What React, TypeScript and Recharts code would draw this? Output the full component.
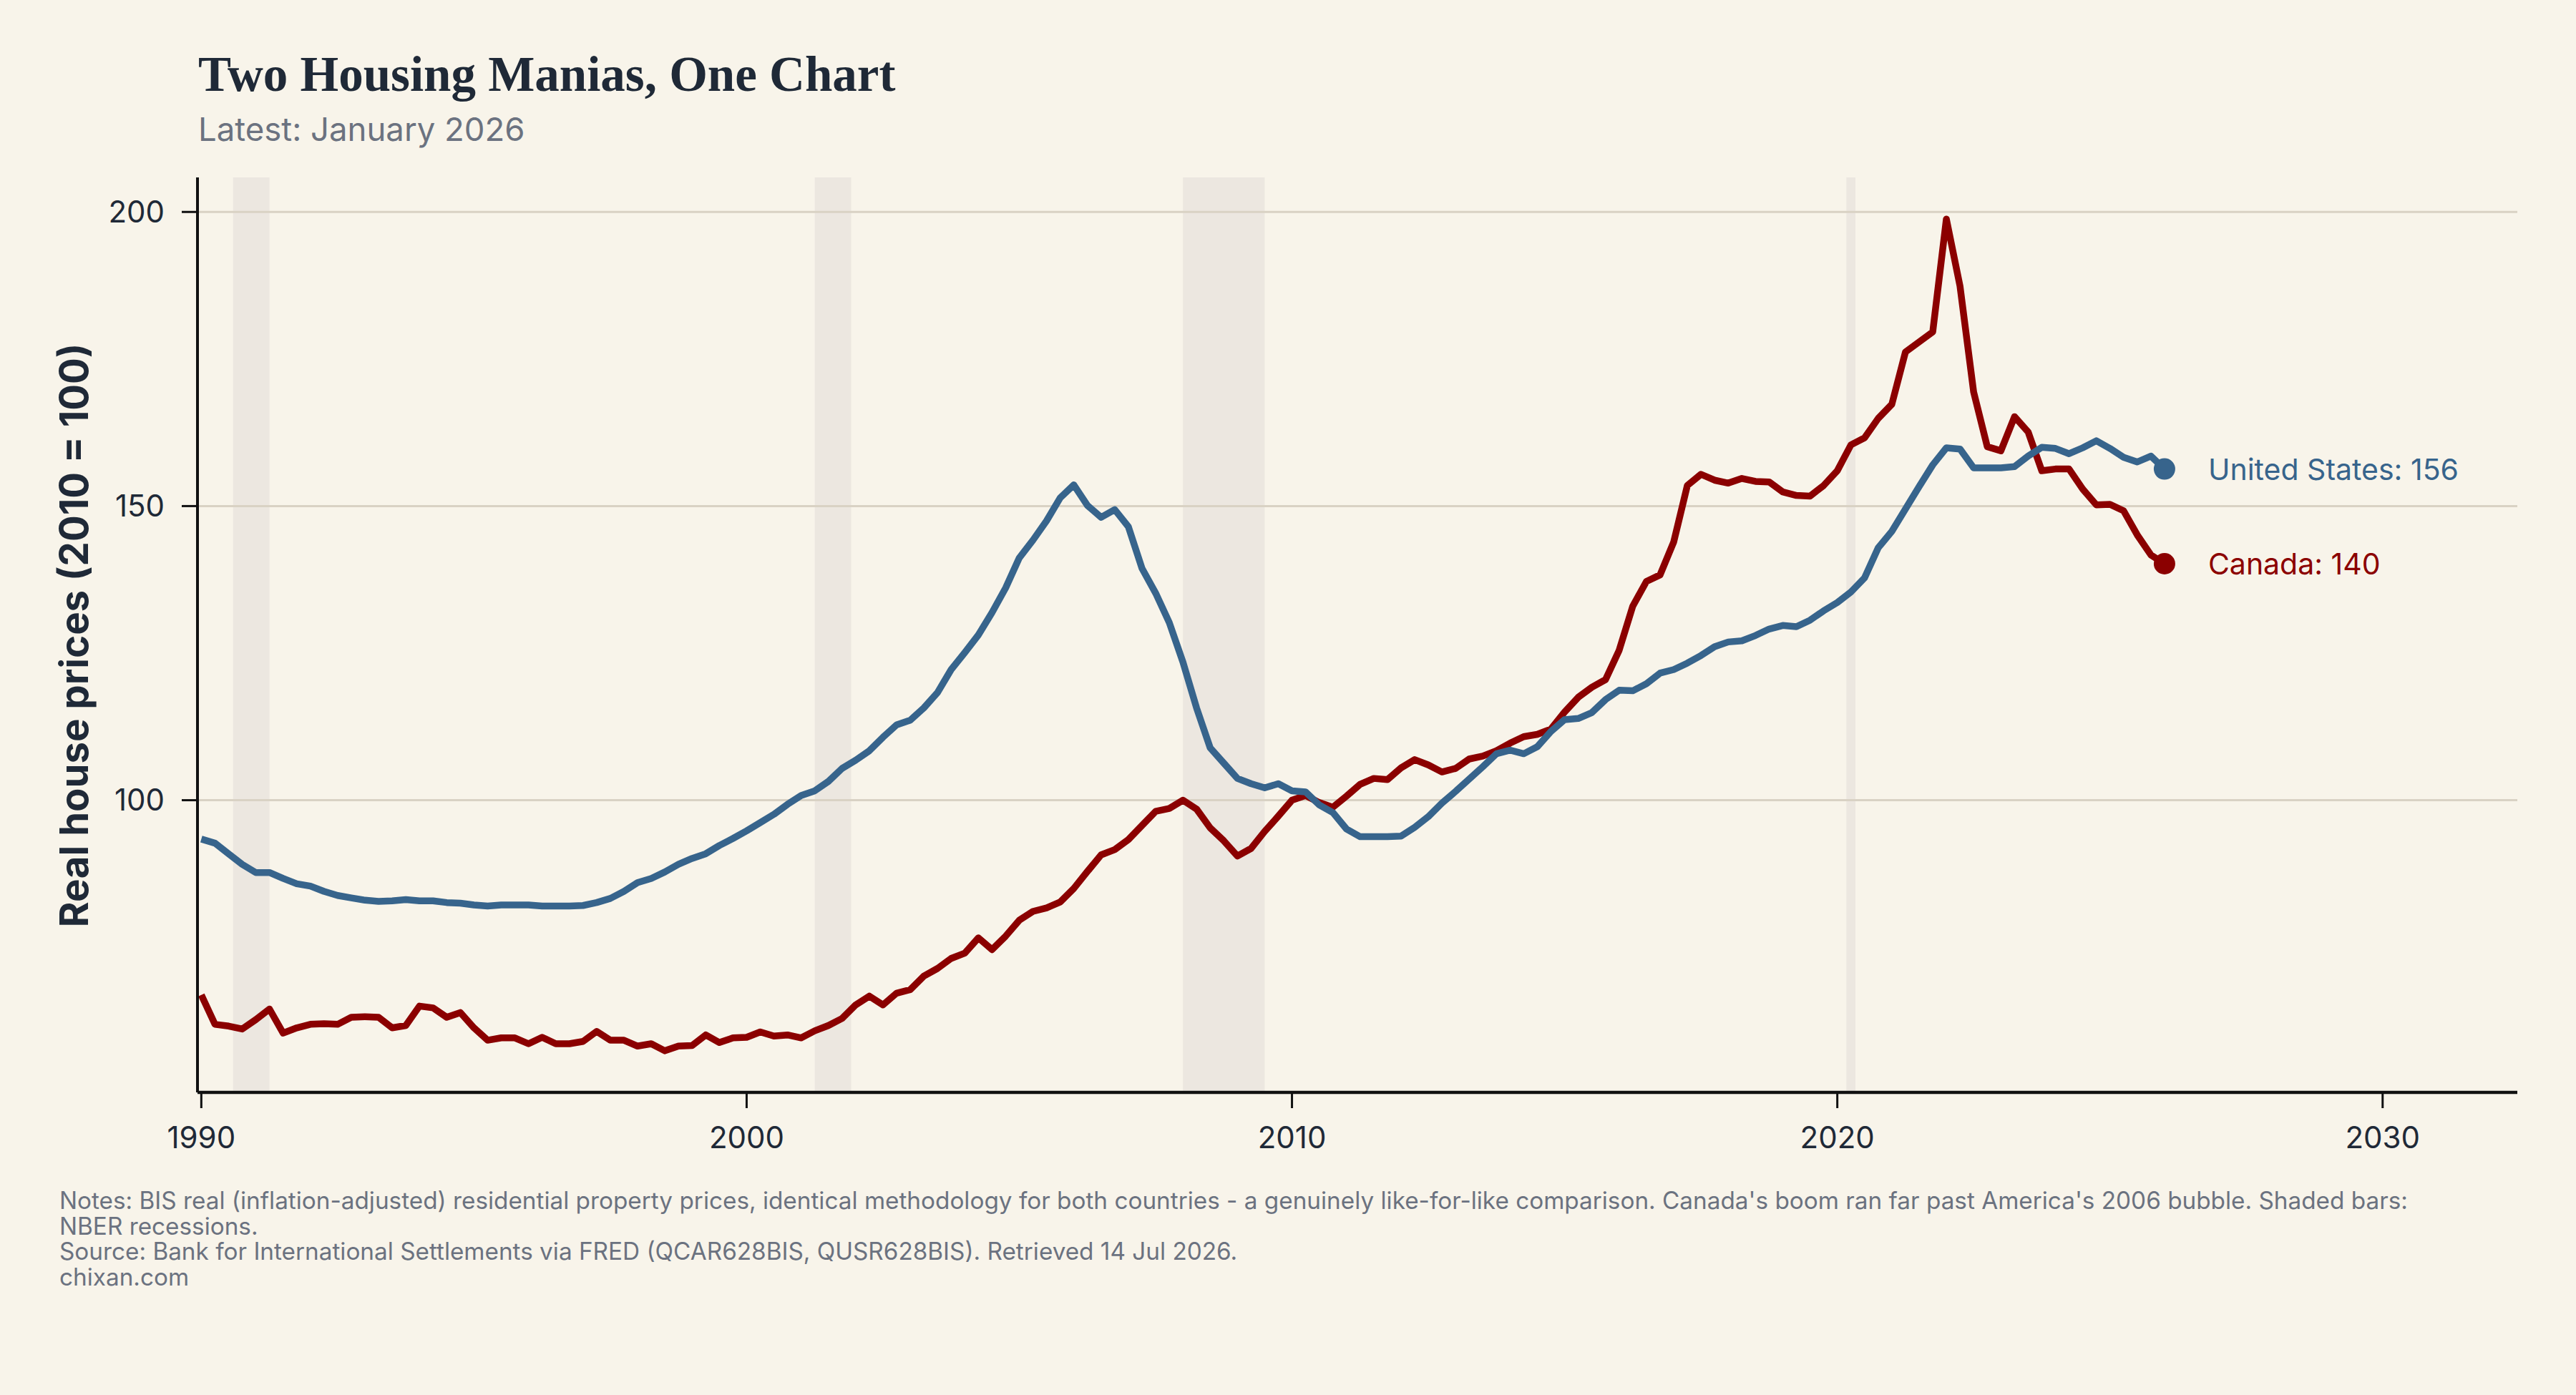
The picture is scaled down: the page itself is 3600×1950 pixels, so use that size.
import {
  LineChart,
  Line,
  XAxis,
  YAxis,
  ReferenceArea,
  ReferenceLine,
} from "recharts";

// BIS real residential property prices, quarterly, 2010 = 100.
// One row per year (Q1..Q4), series starts 1990 Q1 and ends 2026 Q1.
const firstYear = 1990;

const usIndex = [
  93.4, 92.7, 90.9, 89.1, // 1990
  87.7, 87.7, 86.7, 85.8, // 1991
  85.4, 84.5, 83.8, 83.4, // 1992
  83.0, 82.8, 82.9, 83.1, // 1993
  82.9, 82.9, 82.6, 82.5, // 1994
  82.2, 82.0, 82.2, 82.2, // 1995
  82.2, 82.0, 82.0, 82.0, // 1996
  82.1, 82.6, 83.3, 84.5, // 1997
  86.0, 86.7, 87.8, 89.1, // 1998
  90.1, 90.9, 92.3, 93.5, // 1999
  94.8, 96.2, 97.6, 99.3, // 2000
  100.8, 101.6, 103.2, 105.4, // 2001
  106.8, 108.4, 110.7, 112.8, // 2002
  113.6, 115.7, 118.3, 122.2, // 2003
  125.1, 128.1, 131.9, 136.1, // 2004
  141.2, 144.2, 147.5, 151.4, // 2005
  153.6, 150.1, 148.1, 149.4, // 2006
  146.5, 139.4, 135.2, 130.2, // 2007
  123.5, 115.7, 108.9, 106.3, // 2008
  103.7, 102.8, 102.1, 102.8, // 2009
  101.6, 101.4, 99.2, 97.9, // 2010
  95.1, 93.8, 93.8, 93.8, // 2011
  93.9, 95.4, 97.2, 99.5, // 2012
  101.5, 103.6, 105.7, 107.9, // 2013
  108.5, 107.9, 109.1, 111.7, // 2014
  113.7, 113.9, 114.9, 117.1, // 2015
  118.7, 118.6, 119.8, 121.6, // 2016
  122.2, 123.3, 124.6, 126.1, // 2017
  126.9, 127.1, 128.0, 129.1, // 2018
  129.7, 129.5, 130.6, 132.2, // 2019
  133.6, 135.4, 137.8, 142.9, // 2020
  145.7, 149.5, 153.3, 157.0, // 2021
  159.9, 159.7, 156.5, 156.5, // 2022
  156.5, 156.7, 158.5, 160.0, // 2023
  159.8, 158.9, 159.9, 161.1, // 2024
  159.8, 158.3, 157.5, 158.5, // 2025
  156.3, // 2026
];

const caIndex = [
  66.9, 61.9, 61.6, 61.1, // 1990
  62.7, 64.5, 60.4, 61.3, // 1991
  61.9, 62.0, 61.9, 63.1, // 1992
  63.2, 63.1, 61.3, 61.7, // 1993
  65.0, 64.7, 63.1, 63.9, // 1994
  61.3, 59.2, 59.6, 59.6, // 1995
  58.6, 59.7, 58.6, 58.6, // 1996
  59.0, 60.7, 59.2, 59.2, // 1997
  58.2, 58.6, 57.4, 58.2, // 1998
  58.3, 60.1, 58.8, 59.6, // 1999
  59.7, 60.6, 59.9, 60.1, // 2000
  59.6, 60.8, 61.7, 62.9, // 2001
  65.2, 66.7, 65.2, 67.2, // 2002
  67.8, 70.1, 71.4, 73.1, // 2003
  74.0, 76.6, 74.6, 76.9, // 2004
  79.6, 81.1, 81.7, 82.7, // 2005
  85.0, 87.9, 90.7, 91.6, // 2006
  93.3, 95.7, 98.1, 98.6, // 2007
  100.0, 98.5, 95.3, 93.1, // 2008
  90.5, 91.8, 94.7, 97.3, // 2009
  100.0, 100.8, 99.6, 98.8, // 2010
  100.7, 102.7, 103.7, 103.5, // 2011
  105.5, 106.9, 106.0, 104.8, // 2012
  105.4, 107.0, 107.5, 108.4, // 2013
  109.7, 110.8, 111.2, 112.1, // 2014
  115.0, 117.5, 119.2, 120.5, // 2015
  125.5, 133.0, 137.2, 138.3, // 2016
  143.9, 153.5, 155.4, 154.4, // 2017
  153.9, 154.7, 154.2, 154.1, // 2018
  152.4, 151.8, 151.7, 153.5, // 2019
  156.0, 160.4, 161.6, 164.9, // 2020
  167.3, 176.2, 177.9, 179.6, // 2021
  198.8, 187.4, 169.4, 160.1, // 2022
  159.4, 165.2, 162.6, 156.0, // 2023
  156.3, 156.3, 152.9, 150.2, // 2024
  150.3, 149.2, 145.1, 141.7, // 2025
  140.2, // 2026
];

// NBER recessions (start, end) as decimal years
const recessions = [
  [1990.583, 1991.25],
  [2001.25, 2001.917],
  [2008.0, 2009.5],
  [2020.167, 2020.333],
];

const xTicks = [1990, 2000, 2010, 2020, 2030];
const yTicks = [100, 150, 200];

const noteLines = [
  "Notes: BIS real (inflation-adjusted) residential property prices, identical methodology for both countries - a genuinely like-for-like comparison. Canada's boom ran far past America's 2006 bubble. Shaded bars:",
  "NBER recessions.",
  "Source: Bank for International Settlements via FRED (QCAR628BIS, QUSR628BIS). Retrieved 14 Jul 2026.",
  "chixan.com",
];

const BG = "#F8F4EA";
const US_COLOR = "#37648C";
const CA_COLOR = "#8B0000";
const INK = "#1F2937";
const MUTED = "#6B7280";
const SANS = "Inter, 'Noto Sans', sans-serif";

const rows = usIndex.map((us, i) => ({
  t: firstYear + i / 4,
  us,
  ca: caIndex[i],
}));
const lastIndex = rows.length - 1;

// 5% padding around the data, like matplotlib's default margins
const allValues = [...usIndex, ...caIndex];
const yMin = Math.min(...allValues);
const yMax = Math.max(...allValues);
const yPad = (yMax - yMin) * 0.05;

const endMarker =
  (key: "us" | "ca", name: string, color: string) => (props: any) => {
    const { cx, cy, index, payload } = props;
    if (index !== lastIndex) return <g key={`${key}-${index}`} />;
    return (
      <g key={`${key}-end`}>
        <circle cx={cx} cy={cy} r={15} fill={color} />
        <text
          x={cx + 61}
          y={cy}
          dominantBaseline="central"
          fill={color}
          fontSize={41}
          fontFamily={SANS}
        >
          {`${name}: ${Math.round(payload[key])}`}
        </text>
      </g>
    );
  };

export default function App() {
  return (
    <div
      style={{
        position: "absolute",
        left: 0,
        top: 0,
        width: 3600,
        height: 1950,
        background: BG,
      }}
    >
      <LineChart
        width={3600}
        height={1950}
        data={rows}
        margin={{ top: 248, right: 82, bottom: 303, left: 136 }}
      >
        {recessions.map(([x1, x2]) => (
          <ReferenceArea
            key={x1}
            x1={x1}
            x2={x2}
            fill="#BCB3B8"
            fillOpacity={0.2}
            stroke="none"
          />
        ))}
        {yTicks.map((v) => (
          <ReferenceLine key={v} y={v} stroke="#D9D2C4" strokeWidth={3} />
        ))}
        <XAxis
          dataKey="t"
          type="number"
          domain={[1989.93, 2032.47]}
          ticks={xTicks}
          allowDataOverflow
          height={120}
          tickSize={22}
          tickMargin={26}
          axisLine={{ stroke: "#111111", strokeWidth: 4.5 }}
          tickLine={{ stroke: "#111111", strokeWidth: 3 }}
          tick={{ fill: INK, fontSize: 42, fontFamily: SANS }}
        />
        <YAxis
          type="number"
          domain={[yMin - yPad, yMax + yPad]}
          ticks={yTicks}
          allowDataOverflow
          width={140}
          tickSize={22}
          tickMargin={24}
          axisLine={{ stroke: "#111111", strokeWidth: 4 }}
          tickLine={{ stroke: "#111111", strokeWidth: 3 }}
          tick={{ fill: INK, fontSize: 42, fontFamily: SANS }}
        />
        <Line
          dataKey="ca"
          type="linear"
          stroke={CA_COLOR}
          strokeWidth={9.5}
          strokeLinejoin="round"
          dot={endMarker("ca", "Canada", CA_COLOR)}
          activeDot={false}
          isAnimationActive={false}
        />
        <Line
          dataKey="us"
          type="linear"
          stroke={US_COLOR}
          strokeWidth={9.5}
          strokeLinejoin="round"
          dot={endMarker("us", "United States", US_COLOR)}
          activeDot={false}
          isAnimationActive={false}
        />
      </LineChart>

      <svg
        width={3600}
        height={1950}
        style={{ position: "absolute", left: 0, top: 0, pointerEvents: "none" }}
      >
        <text
          x={277}
          y={127}
          fill={INK}
          fontSize={69}
          fontWeight={700}
          fontFamily="'Liberation Serif', serif"
        >
          Two Housing Manias, One Chart
        </text>
        <text x={277} y={197} fill={MUTED} fontSize={45.5} fontFamily={SANS}>
          Latest: January 2026
        </text>
        <text
          transform="translate(123, 888) rotate(-90)"
          textAnchor="middle"
          fill={INK}
          fontSize={54.5}
          fontWeight={700}
          fontFamily={SANS}
        >
          Real house prices (2010 = 100)
        </text>
        {noteLines.map((line, i) => (
          <text
            key={i}
            x={83}
            y={1690 + i * 35.7}
            fill={MUTED}
            fontSize={33.3}
            fontFamily={SANS}
          >
            {line}
          </text>
        ))}
      </svg>
    </div>
  );
}
